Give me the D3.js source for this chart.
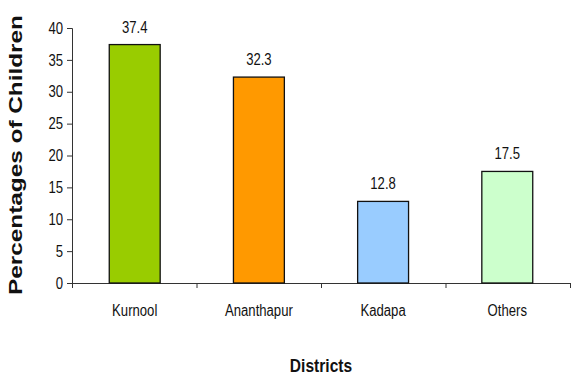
<!DOCTYPE html>
<html>
<head>
<meta charset="utf-8">
<script src="https://cdn.jsdelivr.net/npm/d3@7"></script>
<style>
  body { margin: 0; background: #fff; }
  svg { display: block; }
  .narrow { font-family: "Liberation Sans Narrow", "Arial Narrow", "Liberation Sans", Arial, sans-serif; }
</style>
</head>
<body>
<svg id="chart"></svg>
<script>
// chart data
const districts = ['Kurnool', 'Ananthapur', 'Kadapa', 'Others'];
const percentages = [37.4, 32.3, 12.8, 17.5];
const barColors = ['#99cc00', '#ff9900', '#99ccff', '#ccffcc'];
const yTicks = [0, 5, 10, 15, 20, 25, 30, 35, 40];

const width = 572;
const height = 376;
const margin = { top: 28, right: 2, bottom: 93, left: 72 };
const innerW = width - margin.left - margin.right;
const innerH = height - margin.top - margin.bottom;
const squeeze = 'scale(0.82, 1)'; // fake a narrow face

const svg = d3.select('#chart')
    .attr('width', width)
    .attr('height', height);

const g = svg.append('g')
    .attr('transform', `translate(${margin.left}, ${margin.top})`);

// scales
const xScale = d3.scaleBand()
    .domain(districts)
    .range([0, innerW])
    .paddingInner(0.59)
    .paddingOuter(0.3);

const yScale = d3.scaleLinear()
    .domain([0, 40])
    .range([innerH, 0]);

// y axis
const yAxis = g.append('g')
    .attr('class', 'narrow')
    .call(d3.axisLeft(yScale).tickValues(yTicks).tickSize(5).tickPadding(6));
yAxis.select('.domain').attr('stroke', '#333');
yAxis.selectAll('.tick line').attr('stroke', '#333');
yAxis.selectAll('.tick text')
    .attr('font-size', 16)
    .attr('fill', '#111')
    .attr('transform', squeeze);

// x axis line with ticks between the categories
const edgeScale = d3.scaleLinear().domain([0, districts.length]).range([0, innerW]);
const xEdges = g.append('g')
    .attr('transform', `translate(0, ${innerH})`)
    .call(d3.axisBottom(edgeScale).ticks(districts.length).tickSize(5).tickSizeOuter(0).tickFormat(''));
xEdges.select('.domain').attr('stroke', '#333');
xEdges.selectAll('.tick line').attr('stroke', '#333');

// category labels
const xLabels = g.append('g')
    .attr('class', 'narrow')
    .attr('transform', `translate(0, ${innerH})`)
    .call(d3.axisBottom(xScale).tickSize(0).tickPadding(22));
xLabels.select('.domain').remove();
xLabels.selectAll('.tick text')
    .attr('font-size', 16)
    .attr('fill', '#111')
    .attr('transform', squeeze);

// bars
g.selectAll('.bar')
    .data(percentages)
    .enter()
    .append('rect')
    .attr('class', 'bar')
    .attr('x', (d, i) => xScale(districts[i]))
    .attr('y', d => yScale(d))
    .attr('width', xScale.bandwidth())
    .attr('height', d => yScale(0) - yScale(d))
    .attr('fill', (d, i) => barColors[i])
    .attr('stroke', '#111')
    .attr('stroke-width', 1.3);

// value labels
g.selectAll('.value')
    .data(percentages)
    .enter()
    .append('text')
    .attr('class', 'value narrow')
    .attr('transform', (d, i) =>
        `translate(${xScale(districts[i]) + xScale.bandwidth() / 2}, ${yScale(d) - 12}) ${squeeze}`)
    .attr('text-anchor', 'middle')
    .attr('font-size', 16)
    .attr('fill', '#111')
    .text(d => d);

// axis titles
svg.append('text')
    .attr('transform', 'translate(22, 155) rotate(-90)')
    .attr('text-anchor', 'middle')
    .attr('font-family', 'Liberation Sans, Arial, sans-serif')
    .attr('font-weight', 'bold')
    .attr('font-size', 18)
    .attr('textLength', 280)
    .attr('lengthAdjust', 'spacingAndGlyphs')
    .attr('fill', '#111')
    .text('Percentages of Children');

svg.append('text')
    .attr('class', 'narrow')
    .attr('transform', `translate(${margin.left + innerW / 2}, 372) ${squeeze}`)
    .attr('text-anchor', 'middle')
    .attr('font-weight', 'bold')
    .attr('font-size', 19)
    .attr('fill', '#111')
    .text('Districts');
</script>
</body>
</html>
